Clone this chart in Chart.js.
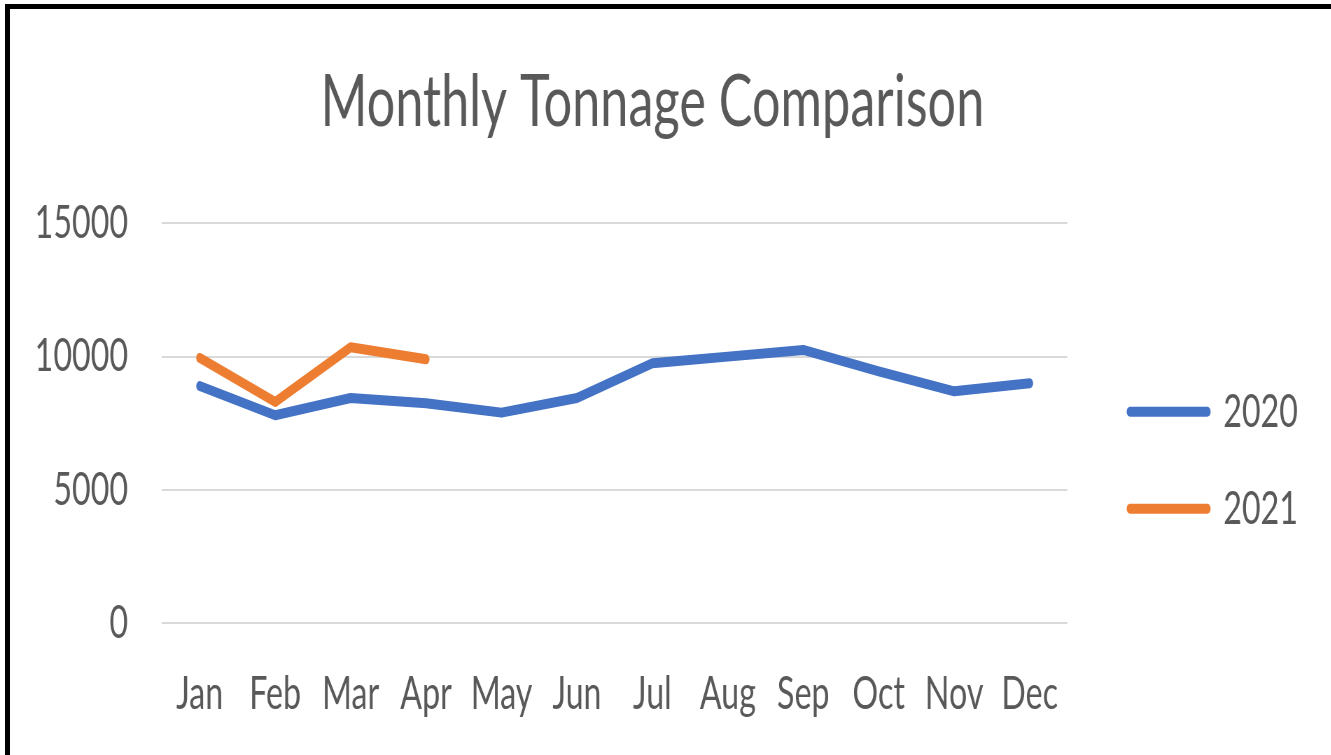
<!DOCTYPE html>
<html>
<head>
<meta charset="utf-8">
<script src="https://cdn.jsdelivr.net/npm/chart.js@4/dist/chart.umd.min.js"></script>
<style>
  html, body { margin: 0; padding: 0; background: #fff; overflow: hidden; }
  #wrap { position: absolute; left: 0; top: 0; width: 1331px; height: 755px; overflow: hidden; }
  /* the source picture is a squeezed Excel chart, so draw wide and squeeze */
  #box { position: absolute; left: 0; top: 0; width: 1901px; height: 755px; transform: scaleX(0.7); transform-origin: 0 0; }
  #frame { position: absolute; left: 5px; top: 4px; width: 1400px; height: 800px;
           border-top: 5px solid #000; border-left: 5px solid #000; pointer-events: none; }
</style>
</head>
<body>
<div id="wrap">
  <div id="box"><canvas id="chart"></canvas></div>
  <div id="frame"></div>
</div>
<script>
const months = ['Jan', 'Feb', 'Mar', 'Apr', 'May', 'Jun', 'Jul', 'Aug', 'Sep', 'Oct', 'Nov', 'Dec'];
const tonnage2020 = [8900, 7800, 8450, 8250, 7900, 8450, 9750, 10000, 10250, 9450, 8700, 9000];
const tonnage2021 = [9950, 8300, 10350, 9900];
const yTicks = [0, 5000, 10000, 15000];

const colors = {
  blue: '#4472C4',
  orange: '#ED7D31',
  text: '#595959',
  grid: '#D9D9D9',
};
const font = 'Lato';

new Chart(document.getElementById('chart'), {
  type: 'line',
  data: {
    labels: months,
    datasets: [
      { label: '2020', data: tonnage2020, borderColor: colors.blue, backgroundColor: colors.blue },
      { label: '2021', data: tonnage2021, borderColor: colors.orange, backgroundColor: colors.orange },
    ].map(d => ({
      ...d,
      borderWidth: 10,
      pointRadius: 0,
      pointHoverRadius: 0,
      pointBorderWidth: 10,
      pointBorderColor: d.borderColor,
      tension: 0,
      borderCapStyle: 'round',
      borderJoinStyle: 'round',
      fill: false,
    })),
  },
  options: {
    responsive: true,
    maintainAspectRatio: false,
    animation: false,
    devicePixelRatio: 1,
    layout: { padding: { left: 0, right: 36.8, top: 0, bottom: 0 } },
    plugins: {
      tooltip: { enabled: false },
      title: {
        display: true,
        text: 'Monthly Tonnage Comparison',
        color: colors.text,
        font: { family: font, size: 72, weight: 'normal' },
        padding: { top: 60, bottom: 76.9 },
      },
      legend: {
        position: 'right',
        align: 'start',
        fullSize: false,
        title: { display: true, text: ' ', font: { size: 10 }, padding: 51.2 },
        labels: {
          usePointStyle: true,
          pointStyle: 'line',
          pointStyleWidth: 110,
          padding: 51,
          color: colors.text,
          font: { family: font, size: 46 },
          // round ends like the source legend keys
          generateLabels: chart => Chart.defaults.plugins.legend.labels.generateLabels(chart)
            .map(item => ({ ...item, lineCap: 'round' })),
        },
      },
    },
    scales: {
      x: {
        offset: true,
        grid: { display: false },
        border: { display: false },
        ticks: { color: colors.text, font: { family: font, size: 46 }, padding: 35, maxRotation: 0, autoSkip: false },
        afterFit: s => { s.height = 131.7; },
      },
      y: {
        min: 0,
        max: 15000,
        afterBuildTicks: s => { s.ticks = yTicks.map(v => ({ value: v })); },
        grid: { color: colors.grid, lineWidth: 2, drawTicks: false },
        border: { display: false },
        ticks: { color: colors.text, font: { family: font, size: 46 }, padding: 48.5, callback: v => String(v) },
        afterFit: s => { s.width = 231.4; },
      },
      y2: {
        position: 'right',
        grid: { display: false },
        border: { display: false },
        ticks: { display: false },
        afterFit: s => { s.width = 38.7; },
      },
    },
  },
});
</script>
</body>
</html>
